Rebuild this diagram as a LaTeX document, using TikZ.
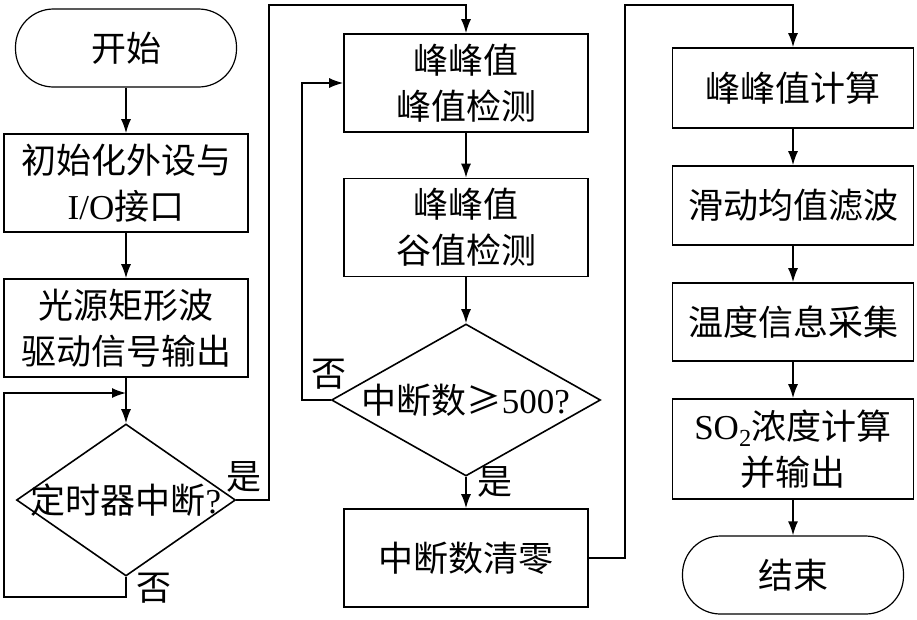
\documentclass[tikz,border=0pt]{standalone}
\usepackage{fontspec}
\setmainfont{Noto Sans CJK SC}
\newfontfamily\lat{Liberation Serif}
\usetikzlibrary{shapes.geometric,arrows.meta}

\begin{document}
\begin{tikzpicture}[x=1pt,y=-1pt,line width=1.6pt,
  every node/.style={font=\fontsize{35}{46}\selectfont,align=center},
  box/.style={draw,rectangle,minimum width=244pt,minimum height=98pt,inner sep=0pt},
  term/.style={draw,rectangle,rounded corners=38pt,minimum width=221pt,minimum height=78pt,line width=1.2pt},
  decision/.style={draw,diamond,inner sep=0pt},
  lbl/.style={inner sep=0pt},
  arr/.style={-{Latex[length=14pt,width=10pt]}}]
  \useasboundingbox (0,0) rectangle (917,619);

  % 第一列
  \node[term] (start) at (126, 48) {开始};
  \node[box] (init) at (126, 183) {初始化外设与\\{\lat I/O}接口};
  \node[box] (drive) at (126, 328) {光源矩形波\\驱动信号输出};
  \node[decision,minimum width=219pt,minimum height=152pt] (timer) at (126, 500) {\makebox[0pt]{定时器中断{\lat ?}}};

  % 第二列
  \node[box] (peak) at (466, 83) {峰峰值\\峰值检测};
  \node[box] (valley) at (466, 227.5) {峰峰值\\谷值检测};
  \node[decision,minimum width=269pt,minimum height=152pt] (count) at (466, 400) {\makebox[0pt]{中断数≥{\lat 500?}}};
  \node[box] (clear) at (466, 558) {中断数清零};

  % 第三列
  \node[box,minimum width=241pt,minimum height=80pt] (pp) at (793, 88) {峰峰值计算};
  \node[box,minimum width=241pt,minimum height=79pt] (filter) at (793, 205.5) {滑动均值滤波};
  \node[box,minimum width=241pt,minimum height=78pt] (temp) at (793, 322) {温度信息采集};
  \node[box,minimum width=241pt,minimum height=100pt] (so2) at (793, 449) {{\lat SO\textsubscript{2}}浓度计算\\并输出};
  \node[term] (end) at (793, 575) {结束};

  % 判断标签
  \node[lbl] (yes1) at (244, 477) {是};
  \node[lbl] (no1) at (154, 588) {否};
  \node[lbl] (no2) at (329, 374) {否};
  \node[lbl] (yes2) at (495, 482) {是};

  % 折线拐点
  \coordinate (t1) at (4, 597);
  \coordinate (t2) at (4, 393);
  \coordinate (y1) at (269, 5);
  \coordinate (n2) at (302, 83);
  \coordinate (c1) at (625, 5);

  % 连线
  \foreach \from/\to in {start/init, init/drive, drive/timer, peak/valley, valley/count,
                         count/clear, pp/filter, filter/temp, temp/so2, so2/end}
    \draw[arr] (\from) -- (\to);
  \draw[arr] (timer.south) |- (t1) -- (t2) -- (t2 -| timer.north);
  \draw[arr] (timer.east) -| (y1) -| (peak.north);
  \draw[arr] (count.west) -| (n2) -- (peak.west);
  \draw[arr] (clear.east) -| (c1) -| (pp.north);
\end{tikzpicture}
\end{document}
